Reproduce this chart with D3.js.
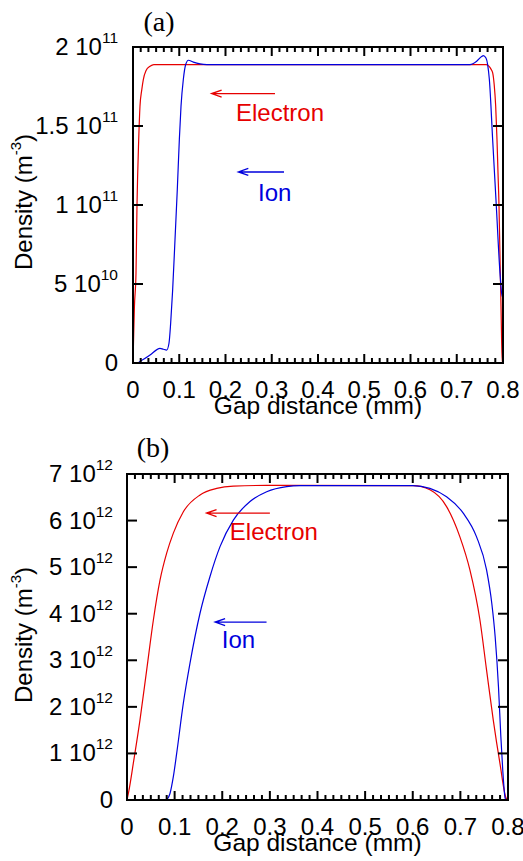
<!DOCTYPE html>
<html>
<head>
<meta charset="utf-8">
<script src="https://cdn.jsdelivr.net/npm/d3@7/dist/d3.min.js"></script>
<style>
html,body{margin:0;padding:0;background:#fff;}
svg{display:block;}
text{font-family:"Liberation Sans",Arial,sans-serif;}
</style>
</head>
<body>
<svg id="chart" width="523" height="861"></svg>
<script>
// ---------- data ----------
const xTickValues = [0, 0.1, 0.2, 0.3, 0.4, 0.5, 0.6, 0.7, 0.8];
const xTickLabels = ["0", "0.1", "0.2", "0.3", "0.4", "0.5", "0.6", "0.7", "0.8"];

const aYTickValues = [0, 5e10, 1e11, 1.5e11, 2e11];
const aYTickMain = ["0", "5 10", "1 10", "1.5 10", "2 10"];
const aYTickSup = ["", "10", "11", "11", "11"];

const bYTickValues = [0, 1e12, 2e12, 3e12, 4e12, 5e12, 6e12, 7e12];
const bYTickMain = ["0", "1 10", "2 10", "3 10", "4 10", "5 10", "6 10", "7 10"];
const bYTickSup = ["", "12", "12", "12", "12", "12", "12", "12"];

// Panel (a) electron density (m^-3)
const aElectronX = [0, 0.001, 0.003, 0.0065, 0.0086, 0.0123, 0.0151, 0.019, 0.0223, 0.028, 0.0368, 0.045,
  0.764, 0.770, 0.774, 0.7777, 0.781, 0.7842, 0.787, 0.7892, 0.7914, 0.7928, 0.7942, 0.7957, 0.797, 0.7985, 0.8];
const aElectronY = [0, 0.12e11, 0.35e11, 0.57e11, 0.99e11, 1.41e11, 1.625e11, 1.73e11, 1.794e11, 1.85e11, 1.878e11, 1.889e11,
  1.889e11, 1.877e11, 1.86e11, 1.836e11, 1.76e11, 1.625e11, 1.414e11, 1.203e11, 0.991e11, 0.78e11, 0.569e11, 0.357e11, 0.146e11, 0.0, 0.0];

// Panel (a) ion density (m^-3)
const aIonX = [0.0115, 0.0368, 0.0584, 0.0656, 0.0728, 0.0778, 0.0814, 0.0857, 0.0908, 0.0958, 0.1002, 0.1038, 0.1088, 0.1139, 0.1197, 0.1304, 0.1449, 0.16,
  0.7286, 0.7431, 0.7538, 0.7574, 0.7632, 0.7668, 0.7705, 0.7777, 0.7856, 0.7935, 0.797, 0.8];
const aIonY = [0.002e11, 0.05e11, 0.093e11, 0.087e11, 0.082e11, 0.125e11, 0.25e11, 0.46e11, 0.78e11, 1.10e11, 1.414e11, 1.625e11, 1.794e11, 1.889e11, 1.916e11, 1.904e11, 1.893e11, 1.889e11,
  1.889e11, 1.91e11, 1.94e11, 1.946e11, 1.93e11, 1.889e11, 1.794e11, 1.41e11, 0.99e11, 0.569e11, 0.442e11, 0.41e11];

// Panel (b) electron density (m^-3)
const bElectronX = [0, 0.004, 0.0133, 0.0273, 0.0413, 0.0553, 0.0693, 0.0833, 0.0973, 0.1183, 0.1533, 0.1883, 0.2233, 0.293,
  0.601, 0.636, 0.671, 0.699, 0.720, 0.741, 0.755, 0.769, 0.783, 0.796, 0.8];
const bElectronY = [0, 0.2e12, 0.79e12, 1.72e12, 2.79e12, 3.86e12, 4.72e12, 5.30e12, 5.73e12, 6.19e12, 6.55e12, 6.69e12, 6.74e12, 6.755e12,
  6.75e12, 6.66e12, 6.30e12, 5.65e12, 4.94e12, 3.87e12, 2.79e12, 1.72e12, 0.79e12, 0.04e12, 0];

// Panel (b) ion density (m^-3)
const bIonX = [0.0833, 0.0903, 0.0973, 0.1043, 0.1183, 0.1323, 0.1533, 0.1743, 0.1953, 0.2233, 0.2583, 0.2933, 0.3353, 0.3633,
  0.60, 0.636, 0.671, 0.706, 0.734, 0.755, 0.766, 0.773, 0.780, 0.785, 0.789, 0.794, 0.796];
const bIonY = [0, 0.14e12, 0.50e12, 1.0e12, 2.08e12, 2.94e12, 4.01e12, 4.80e12, 5.44e12, 6.01e12, 6.41e12, 6.62e12, 6.73e12, 6.75e12,
  6.75e12, 6.69e12, 6.51e12, 6.16e12, 5.65e12, 4.94e12, 4.22e12, 3.51e12, 2.43e12, 1.36e12, 0.64e12, 0.04e12, 0];

// ---------- drawing ----------
const RED = "#e60000", BLUE = "#0000dd";
const svg = d3.select("#chart");

function zip(xs, ys) { return xs.map((x, i) => [x, ys[i]]); }

function drawPanel(cfg) {
  const x = d3.scaleLinear().domain([0, 0.8]).range([cfg.left, cfg.right]);
  const y = d3.scaleLinear().domain([0, cfg.ymax]).range([cfg.bottom, cfg.top]);
  const g = svg.append("g");

  const clipId = "clip" + cfg.id;
  svg.append("clipPath").attr("id", clipId).append("rect")
    .attr("x", cfg.left).attr("y", cfg.top)
    .attr("width", cfg.right - cfg.left).attr("height", cfg.bottom - cfg.top);

  const line = d3.line().x(d => x(d[0])).y(d => y(d[1])).curve(d3.curveMonotoneX);
  const lines = g.append("g").attr("clip-path", `url(#${clipId})`);
  lines.append("path").datum(zip(cfg.eX, cfg.eY)).attr("d", line)
    .attr("fill", "none").attr("stroke", RED).attr("stroke-width", 1.2);
  lines.append("path").datum(zip(cfg.iX, cfg.iY)).attr("d", line)
    .attr("fill", "none").attr("stroke", BLUE).attr("stroke-width", 1.2);

  // ticks
  const tk = g.append("g").attr("stroke", "#000").attr("stroke-width", 2);
  const nMinor = 48;
  for (let i = 1; i < nMinor; i++) {
    const v = i * 0.8 / nMinor;
    const len = (i % 6 === 0) ? 9 : 5;
    const px = x(v);
    tk.append("line").attr("x1", px).attr("x2", px).attr("y1", cfg.bottom).attr("y2", cfg.bottom - len);
    tk.append("line").attr("x1", px).attr("x2", px).attr("y1", cfg.top).attr("y2", cfg.top + len);
  }
  cfg.yTicks.forEach((v, i) => {
    if (i === 0 || i === cfg.yTicks.length - 1) return;
    const py = y(v);
    tk.append("line").attr("x1", cfg.left).attr("x2", cfg.left + 10).attr("y1", py).attr("y2", py);
    tk.append("line").attr("x1", cfg.right).attr("x2", cfg.right - 10).attr("y1", py).attr("y2", py);
  });

  // frame
  g.append("rect").attr("x", cfg.left).attr("y", cfg.top)
    .attr("width", cfg.right - cfg.left).attr("height", cfg.bottom - cfg.top)
    .attr("fill", "none").attr("stroke", "#000").attr("stroke-width", 2);

  // x tick labels
  xTickValues.forEach((v, i) => {
    g.append("text").attr("x", x(v)).attr("y", cfg.bottom + 35)
      .attr("text-anchor", "middle").attr("font-size", 24).text(xTickLabels[i]);
  });
  // y tick labels
  cfg.yTicks.forEach((v, i) => {
    const t = g.append("text").attr("x", cfg.labelRight).attr("y", y(v) + 8)
      .attr("text-anchor", "end").attr("font-size", 24);
    t.append("tspan").text(cfg.yMain[i]);
    if (cfg.ySup[i]) t.append("tspan").attr("font-size", 15.5).attr("dy", -12).text(cfg.ySup[i]);
  });

  // axis titles
  g.append("text").attr("x", (cfg.left + cfg.right) / 2).attr("y", cfg.bottom + 51)
    .attr("text-anchor", "middle").attr("font-size", 24.5).text("Gap distance (mm)");
  const yt = g.append("text")
    .attr("transform", `translate(32,${cfg.yTitleY}) rotate(-90)`)
    .attr("text-anchor", "middle").attr("font-size", 24);
  yt.append("tspan").text("Density (m");
  yt.append("tspan").attr("font-size", 15).attr("dy", -11).text("-3");
  yt.append("tspan").attr("dy", 11).text(")");

  // panel label
  g.append("text").attr("x", cfg.tagX).attr("y", cfg.tagY).attr("text-anchor", "middle")
    .attr("font-size", 28).style("font-family", "'Liberation Serif','Times New Roman',serif").text(cfg.tag);

  // annotations
  cfg.notes.forEach(n => {
    const x0 = x(n.from), x1 = x(n.to), py = y(n.y);
    g.append("path")
      .attr("d", `M${x0},${py}H${x1}M${x1 + 10},${py - 3.5}L${x1},${py}L${x1 + 10},${py + 3.5}`)
      .attr("fill", "none").attr("stroke", n.color).attr("stroke-width", 1.3);
    g.append("text").attr("x", x(n.tx)).attr("y", y(n.ty)).attr("font-size", 24)
      .attr("fill", n.color).text(n.text);
  });
}

drawPanel({
  id: "a", left: 133, right: 503, top: 47, bottom: 363, ymax: 2e11, labelRight: 118, yTitleY: 202,
  yTicks: aYTickValues, yMain: aYTickMain, ySup: aYTickSup,
  eX: aElectronX, eY: aElectronY, iX: aIonX, iY: aIonY,
  tag: "(a)", tagX: 159, tagY: 31,
  notes: [
    { from: 0.307, to: 0.170, y: 1.705e11, tx: 0.2227, ty: 1.53e11, text: "Electron", color: RED },
    { from: 0.3265, to: 0.2277, y: 1.209e11, tx: 0.2703, ty: 1.0225e11, text: "Ion", color: BLUE }
  ]
});

drawPanel({
  id: "b", left: 127, right: 508, top: 474, bottom: 800, ymax: 7e12, labelRight: 113, yTitleY: 635,
  yTicks: bYTickValues, yMain: bYTickMain, ySup: bYTickSup,
  eX: bElectronX, eY: bElectronY, iX: bIonX, iY: bIonY,
  tag: "(b)", tagX: 153, tagY: 457,
  notes: [
    { from: 0.300, to: 0.167, y: 6.16e12, tx: 0.216, ty: 5.58e12, text: "Electron", color: RED },
    { from: 0.293, to: 0.185, y: 3.82e12, tx: 0.199, ty: 3.26e12, text: "Ion", color: BLUE }
  ]
});
</script>
</body>
</html>
